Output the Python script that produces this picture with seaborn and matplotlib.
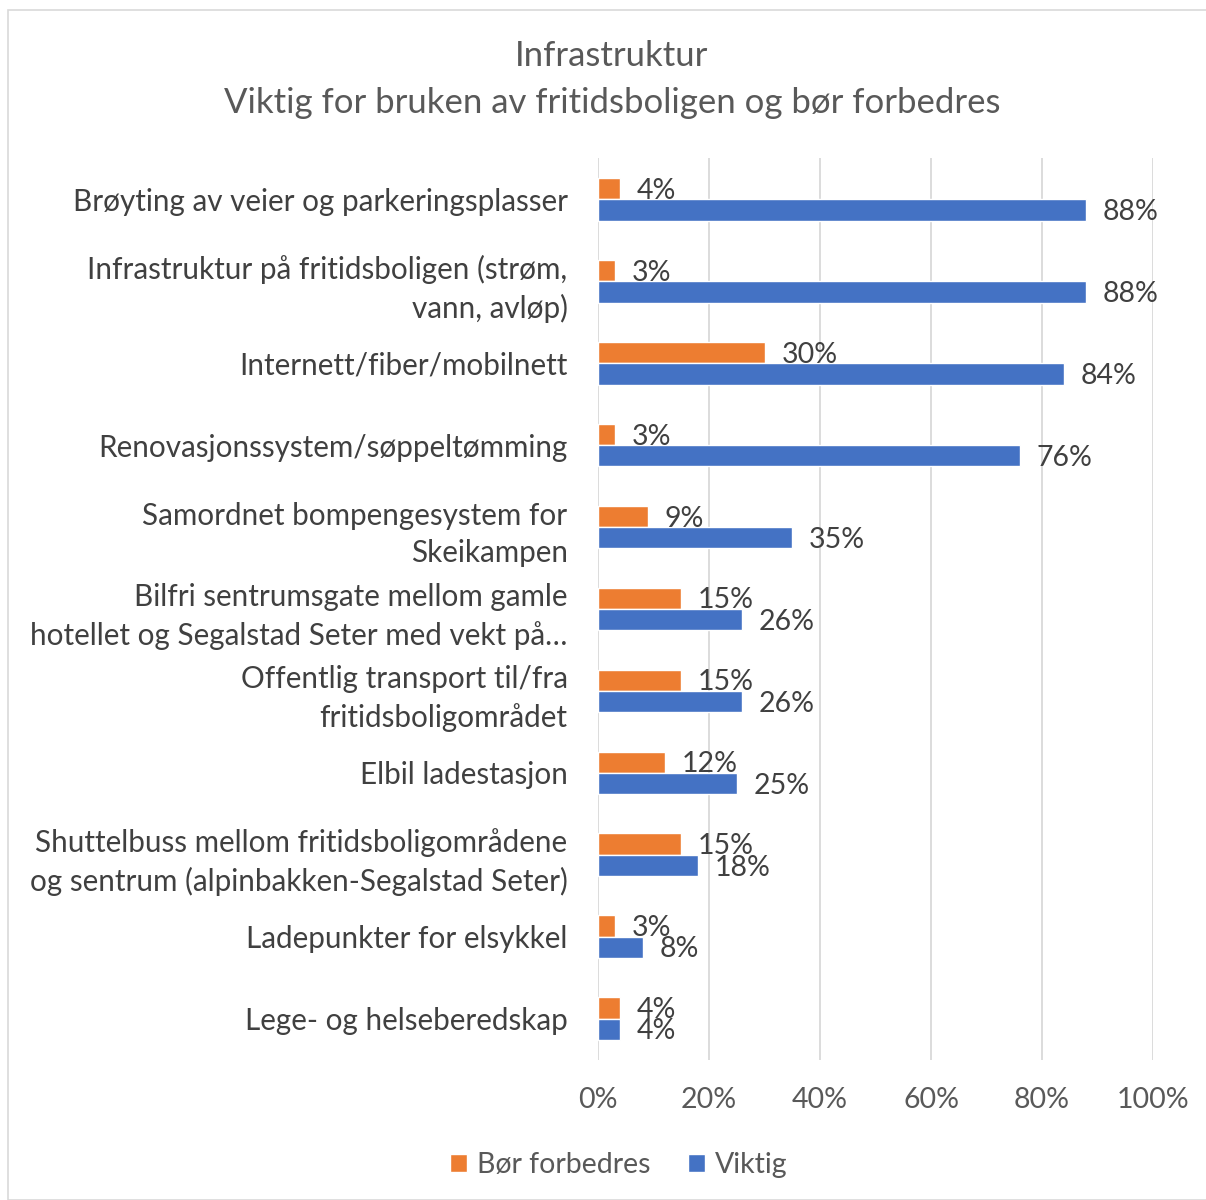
import pandas as pd
import matplotlib.pyplot as plt
import seaborn as sns
from matplotlib.patches import Rectangle

# Data
categories = [
    "Brøyting av veier og parkeringsplasser",
    "Infrastruktur på fritidsboligen (strøm,\nvann, avløp)",
    "Internett/fiber/mobilnett",
    "Renovasjonssystem/søppeltømming",
    "Samordnet bompengesystem for\nSkeikampen",
    "Bilfri sentrumsgate mellom gamle\nhotellet og Segalstad Seter med vekt på…",
    "Offentlig transport til/fra\nfritidsboligområdet",
    "Elbil ladestasjon",
    "Shuttelbuss mellom fritidsboligområdene\nog sentrum (alpinbakken-Segalstad Seter)",
    "Ladepunkter for elsykkel",
    "Lege- og helseberedskap",
]
bor_forbedres = [4, 3, 30, 3, 9, 15, 15, 12, 15, 3, 4]
viktig = [88, 88, 84, 76, 35, 26, 26, 25, 18, 8, 4]
series_names = ["Bør forbedres", "Viktig"]
x_ticks = [0, 20, 40, 60, 80, 100]

df = pd.DataFrame({
    "kategori": categories * 2,
    "serie": [series_names[0]] * len(categories) + [series_names[1]] * len(categories),
    "verdi": bor_forbedres + viktig,
})

sns.set_theme(style="white")
plt.rcParams["font.family"] = ["Lato", "DejaVu Sans"]

text_col = "#404040"
tick_col = "#595959"
colors = {"Bør forbedres": "#ED7D31", "Viktig": "#4472C4"}
fs = 20.5

fig = plt.figure(figsize=(12.06, 12.0), dpi=100)
ax = fig.add_axes([0.496, 0.117, 0.46, 0.751])

sns.barplot(data=df, x="verdi", y="kategori", hue="serie", order=categories,
            hue_order=series_names, palette=colors, orient="h", width=0.52,
            saturation=1, ax=ax, legend=True)

# value labels outside bar ends
for cont in ax.containers:
    for bar in cont:
        w = bar.get_width()
        ax.annotate(f"{w:.0f}%", (w, bar.get_y() + bar.get_height() / 2),
                    xytext=(12, -1.5), textcoords="offset points",
                    ha="left", va="center", fontsize=fs, color=text_col)

ax.set_xlim(0, 100)
ax.set_ylim(10.5, -0.5)
ax.set_xticks(x_ticks)
ax.set_xticklabels([f"{t}%" for t in x_ticks])
ax.grid(axis="x", color="#d9d9d9", linewidth=1.3)
ax.set_axisbelow(True)
for s in ax.spines.values():
    s.set_visible(False)
ax.tick_params(axis="y", length=0, pad=22, labelsize=21.3, labelcolor=text_col)
ax.tick_params(axis="x", length=0, pad=20, labelsize=fs, labelcolor=tick_col)
ax.set_xlabel("")
ax.set_ylabel("")
for lbl in ax.get_yticklabels():
    lbl.set_horizontalalignment("right")
    lbl.set_linespacing(1.4)

leg = ax.legend(loc="center", frameon=False, ncol=2, fontsize=fs,
                handlelength=0.6, handleheight=0.6, handletextpad=0.35,
                columnspacing=1.3, labelcolor=tick_col)
leg.set_bbox_to_anchor((619 / 1206, 1 - 1165 / 1200), transform=fig.transFigure)

fig.text(612 / 1206, 1 - 56 / 1200, "Infrastruktur", ha="center", va="center",
         fontsize=25, color=tick_col)
fig.text(612 / 1206, 1 - 103 / 1200, "Viktig for bruken av fritidsboligen og bør forbedres",
         ha="center", va="center", fontsize=25, color=tick_col)

# thin chart-area border
fig.patches.append(Rectangle((8 / 1206, 0.0), 1.0, 1 - 10 / 1200, transform=fig.transFigure,
                             fill=False, edgecolor="#d9d9d9", linewidth=1.2))

fig.savefig("out.png", dpi=100, facecolor="white")
